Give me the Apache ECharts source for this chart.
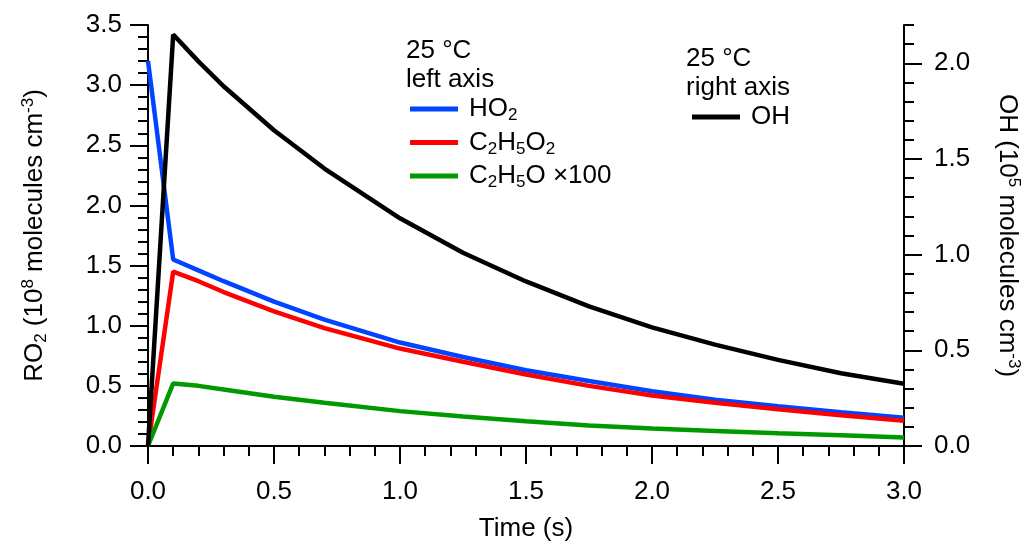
<!DOCTYPE html>
<html>
<head>
    <meta charset="UTF-8">
    <title>RO2 / OH time profiles</title>
    <style type="text/css">
        body, html{width: 100%;height: 100%;margin:0;background:#fff;}
        #main {width: 1036px; height: 549px;}
    </style>
    <script src="https://cdn.jsdelivr.net/npm/echarts@6/dist/echarts.min.js"></script>
</head>
<body>
<div id="main"></div>
<script type="text/javascript">
    // data
    var time = [0, 0.1, 0.2, 0.3, 0.5, 0.7, 1.0, 1.25, 1.5, 1.75, 2.0, 2.25, 2.5, 2.75, 3.0];
    var ho2 = [3.2, 1.55, 1.46, 1.37, 1.2, 1.05, 0.86, 0.74, 0.63, 0.54, 0.455, 0.385, 0.33, 0.28, 0.235];
    var c2h5o2 = [0, 1.45, 1.37, 1.28, 1.12, 0.98, 0.81, 0.7, 0.595, 0.5, 0.42, 0.36, 0.305, 0.255, 0.21];
    var c2h5o = [0, 0.52, 0.5, 0.47, 0.41, 0.36, 0.29, 0.245, 0.205, 0.17, 0.145, 0.125, 0.105, 0.09, 0.07];
    var oh = [0, 2.15, 2.01, 1.88, 1.65, 1.45, 1.19, 1.01, 0.86, 0.73, 0.62, 0.53, 0.45, 0.38, 0.325];
    var rightTicks = [0, 0.5, 1.0, 1.5, 2.0];

    var FONT = '"Liberation Sans", Arial, sans-serif';
    var BLACK = '#000';
    var FS = 26;

    function pairs(ys){
        var out = [];
        for(var i = 0; i < time.length; i++){
            out.push([time[i], ys[i]]);
        }
        return out;
    }
    function fmt(v){ return v.toFixed(1); }

    // rich styles: n = normal, s = subscript, p = superscript
    var rich = {
        n: {fontSize: FS, fontFamily: FONT, color: BLACK, lineHeight: 30},
        s: {fontSize: 17, fontFamily: FONT, color: BLACK, lineHeight: 17, verticalAlign: 'bottom'},
        p: {fontSize: 17, fontFamily: FONT, color: BLACK, lineHeight: 17, verticalAlign: 'top'},
        g: {width: 6, lineHeight: 30}
    };
    var legendNames = {
        'HO2': '{g|}{n|HO}{s|2}',
        'C2H5O2': '{g|}{n|C}{s|2}{n|H}{s|5}{n|O}{s|2}',
        'C2H5O': '{g|}{n|C}{s|2}{n|H}{s|5}{n|O ×100}',
        'OH': '{g|}{n|OH}'
    };

    var axisLine = {show: true, lineStyle: {color: BLACK, width: 2}};
    var majorTick = {show: true, inside: false, length: 18, lineStyle: {color: BLACK, width: 2}};
    var minorTick = {show: true, splitNumber: 5, length: 10, lineStyle: {color: BLACK, width: 2}};
    var tickLabel = {color: BLACK, fontSize: FS, fontFamily: FONT, formatter: fmt};

    var myChart = echarts.init(document.getElementById('main'), null, {renderer: 'canvas'});
    var option = {
        animation: false,
        backgroundColor: '#fff',
        textStyle: {fontFamily: FONT},
        grid: {left: 148, right: 132, top: 25, bottom: 103},
        legend: [{
            data: ['HO2', 'C2H5O2', 'C2H5O'],
            orient: 'vertical',
            left: 410, top: 96,
            padding: 0,
            itemGap: 5.5,
            itemWidth: 48, itemHeight: 5,
            icon: 'rect',
            selectedMode: false,
            formatter: function(name){ return legendNames[name]; },
            textStyle: {rich: rich}
        }, {
            data: ['OH'],
            orient: 'vertical',
            left: 692, top: 104,
            padding: 0,
            itemWidth: 48, itemHeight: 5,
            icon: 'rect',
            selectedMode: false,
            formatter: function(name){ return legendNames[name]; },
            textStyle: {rich: rich}
        }],
        graphic: [{
            type: 'text', left: 406, top: 36,
            style: {text: '25 °C\nleft axis', font: FS + 'px ' + FONT, fill: BLACK, lineHeight: 29}
        }, {
            type: 'text', left: 686, top: 44,
            style: {text: '25 °C\nright axis', font: FS + 'px ' + FONT, fill: BLACK, lineHeight: 29}
        }],
        xAxis: {
            type: 'value',
            min: 0, max: 3, interval: 0.5,
            name: 'Time (s)',
            nameLocation: 'middle',
            nameGap: 70,
            nameTextStyle: {color: BLACK, fontSize: FS, fontFamily: FONT},
            axisLine: axisLine,
            axisTick: majorTick,
            minorTick: minorTick,
            splitLine: {show: false},
            axisLabel: Object.assign({margin: 33}, tickLabel)
        },
        yAxis: [{
            type: 'value',
            position: 'left',
            min: 0, max: 3.5, interval: 0.5,
            name: '{n|RO}{s|2}{n| (10}{p|8}{n| molecules cm}{p|-3}{n|)}',
            nameLocation: 'middle',
            nameGap: 98,
            nameTextStyle: {rich: rich},
            axisLine: axisLine,
            axisTick: majorTick,
            minorTick: minorTick,
            splitLine: {show: false},
            axisLabel: Object.assign({margin: 26}, tickLabel)
        }, {
            // right axis: line + 0.1 minor ticks
            type: 'value',
            position: 'right',
            min: 0, max: 2.2, interval: 0.1,
            axisLine: axisLine,
            axisTick: {show: true, length: 10, lineStyle: {color: BLACK, width: 2}},
            axisLabel: {show: false},
            splitLine: {show: false}
        }, {
            // right axis: major ticks and labels
            type: 'value',
            position: 'right',
            min: 0, max: 2.2, interval: 0.5,
            name: '{n|OH (10}{p|5}{n| molecules cm}{p|-3}{n|)}',
            nameLocation: 'middle',
            nameGap: 88,
            nameRotate: -90,
            nameTextStyle: {rich: rich},
            axisLine: {show: false},
            axisTick: {show: true, length: 18, customValues: rightTicks, lineStyle: {color: BLACK, width: 2}},
            axisLabel: Object.assign({margin: 30, customValues: rightTicks}, tickLabel),
            splitLine: {show: false}
        }],
        series: [{
            name: 'HO2', type: 'line', yAxisIndex: 0,
            data: pairs(ho2), symbol: 'none',
            itemStyle: {color: '#0044ff'},
            lineStyle: {color: '#0044ff', width: 4.5}
        }, {
            name: 'C2H5O2', type: 'line', yAxisIndex: 0,
            data: pairs(c2h5o2), symbol: 'none',
            itemStyle: {color: '#ff0000'},
            lineStyle: {color: '#ff0000', width: 4.5}
        }, {
            name: 'C2H5O', type: 'line', yAxisIndex: 0,
            data: pairs(c2h5o), symbol: 'none',
            itemStyle: {color: '#009a00'},
            lineStyle: {color: '#009a00', width: 4.5}
        }, {
            name: 'OH', type: 'line', yAxisIndex: 1,
            data: pairs(oh), symbol: 'none',
            itemStyle: {color: BLACK},
            lineStyle: {color: BLACK, width: 4.5}
        }]
    };
    myChart.setOption(option);
</script>
</body>
</html>
